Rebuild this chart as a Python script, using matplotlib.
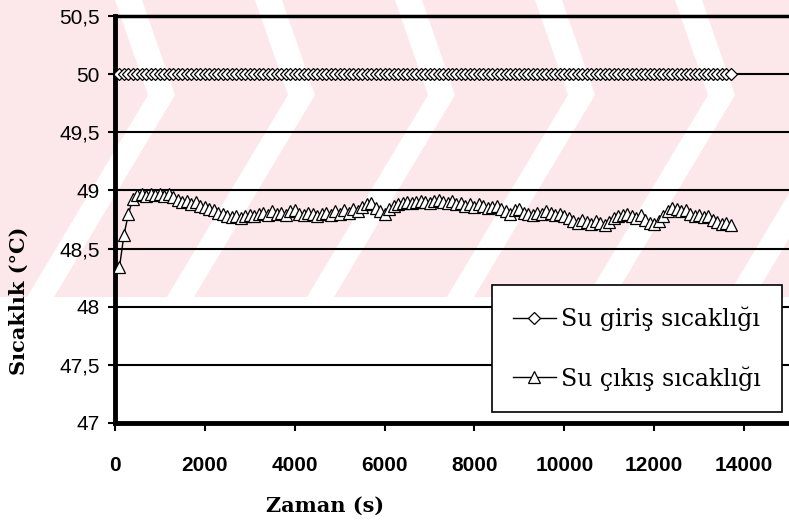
import matplotlib
matplotlib.use("Agg")
import matplotlib.pyplot as plt
import numpy as np
from matplotlib.patches import Polygon, Rectangle

# Data (time step 100 s)
zaman = np.arange(100, 13800, 100)  # s
su_giris = [50.0] * len(zaman)  # inlet stays at 50 degC
su_cikis = [
    48.34, 48.62, 48.80, 48.93, 48.96, 48.97, 48.95, 48.97, 48.96, 48.97,
    48.95, 48.97, 48.94, 48.92, 48.90, 48.91, 48.88, 48.90, 48.87, 48.86,
    48.84, 48.83, 48.81, 48.80, 48.78, 48.77, 48.78, 48.76, 48.78, 48.79,
    48.78, 48.80, 48.81, 48.79, 48.82, 48.80, 48.81, 48.79, 48.82, 48.83,
    48.80, 48.79, 48.81, 48.80, 48.78, 48.80, 48.81, 48.79, 48.82, 48.80,
    48.83, 48.81, 48.84, 48.82, 48.86, 48.88, 48.89, 48.85, 48.82, 48.80,
    48.84, 48.87, 48.88, 48.89, 48.90, 48.89, 48.90, 48.91, 48.90, 48.89,
    48.91, 48.92, 48.90, 48.89, 48.91, 48.88, 48.89, 48.87, 48.88, 48.86,
    48.88, 48.87, 48.85, 48.86, 48.87, 48.84, 48.82, 48.80, 48.83, 48.84,
    48.81, 48.80, 48.79, 48.81, 48.80, 48.82, 48.81, 48.79, 48.80, 48.78,
    48.76, 48.74, 48.72, 48.75, 48.73, 48.71, 48.74, 48.72, 48.70, 48.73,
    48.76, 48.78, 48.79, 48.80, 48.78, 48.76, 48.79, 48.75, 48.72, 48.71,
    48.74, 48.78, 48.82, 48.85, 48.84, 48.82, 48.83, 48.80, 48.78, 48.79,
    48.77, 48.78, 48.75, 48.73, 48.71, 48.72, 48.70,
]

x_ticks = [0, 2000, 4000, 6000, 8000, 10000, 12000, 14000]
y_ticks = [47, 47.5, 48, 48.5, 49, 49.5, 50, 50.5]
y_ticklabels = ["47", "47,5", "48", "48,5", "49", "49,5", "50", "50,5"]

fig = plt.figure(figsize=(7.89, 5.26), dpi=100)

# faint pink watermark with white chevron stripes (background, pixel coords)
bg = fig.add_axes([0, 0, 1, 1], zorder=-5)
bg.set_xlim(0, 789)
bg.set_ylim(526, 0)
bg.axis("off")
pink = "#fce8eb"
bg.add_patch(Rectangle((0, 0), 789, 297, color=pink, lw=0))
for x0 in [27, 167, 307, 447, 587, 727, 867]:
    apex = x0 + 121
    top = apex - 33
    w = 27
    bg.add_patch(Polygon([(x0, 297), (x0 + w, 297), (apex + w, 95),
                          (top + w, 0), (top, 0), (apex, 95)],
                         closed=True, color="white", lw=0))

ax = fig.add_axes([115 / 789, 1 - 423 / 526, 1 - 115 / 789, (423 - 16) / 526])
ax.set_facecolor("none")

ax.plot(zaman, su_giris, color="black", lw=1, marker="D", markersize=6,
        markerfacecolor="white", markeredgecolor="black", markeredgewidth=0.9,
        label="Su giriş sıcaklığı", zorder=3)
ax.plot(zaman, su_cikis, color="black", lw=1, marker="^", markersize=8,
        markerfacecolor="white", markeredgecolor="black", markeredgewidth=0.9,
        label="Su çıkış sıcaklığı", zorder=3)

ax.set_xlim(0, 15000)
ax.set_ylim(47, 50.5)
ax.set_yticks(y_ticks)
ax.set_yticklabels(y_ticklabels, family=["Liberation Sans", "DejaVu Sans"],
                   fontsize=15)
ax.set_xticks(x_ticks)
ax.set_xticklabels([str(t) for t in x_ticks],
                   family=["Liberation Sans", "DejaVu Sans"],
                   fontsize=15, fontweight="bold")
ax.tick_params(axis="x", direction="out", length=6, width=1.5, pad=18)
ax.tick_params(axis="y", direction="out", length=5, width=1.5, pad=6)

for y in y_ticks[1:-1]:
    ax.axhline(y, color="black", lw=1.5, zorder=1)

ax.spines["right"].set_visible(False)
ax.spines["left"].set_linewidth(3.5)
ax.spines["bottom"].set_linewidth(3.5)
ax.spines["top"].set_linewidth(2.5)

ax.set_ylabel("Sıcaklık (°C)", family="DejaVu Serif", fontsize=15,
              fontweight="bold")
ax.yaxis.set_label_coords(-0.128, 0.30)
ax.set_xlabel("Zaman (s)", family="DejaVu Serif", fontsize=15,
              fontweight="bold")
ax.xaxis.set_label_coords(0.312, -0.18)

leg = ax.legend(loc="upper left", bbox_to_anchor=(0.559, 0.339),
                prop={"family": "DejaVu Serif", "size": 17},
                frameon=True, fancybox=False, framealpha=1,
                edgecolor="black", handlelength=1.8, handletextpad=0.25,
                labelspacing=1.5, borderpad=0.9, borderaxespad=0)
leg.get_frame().set_linewidth(1.2)

fig.savefig("out.png", dpi=100)
